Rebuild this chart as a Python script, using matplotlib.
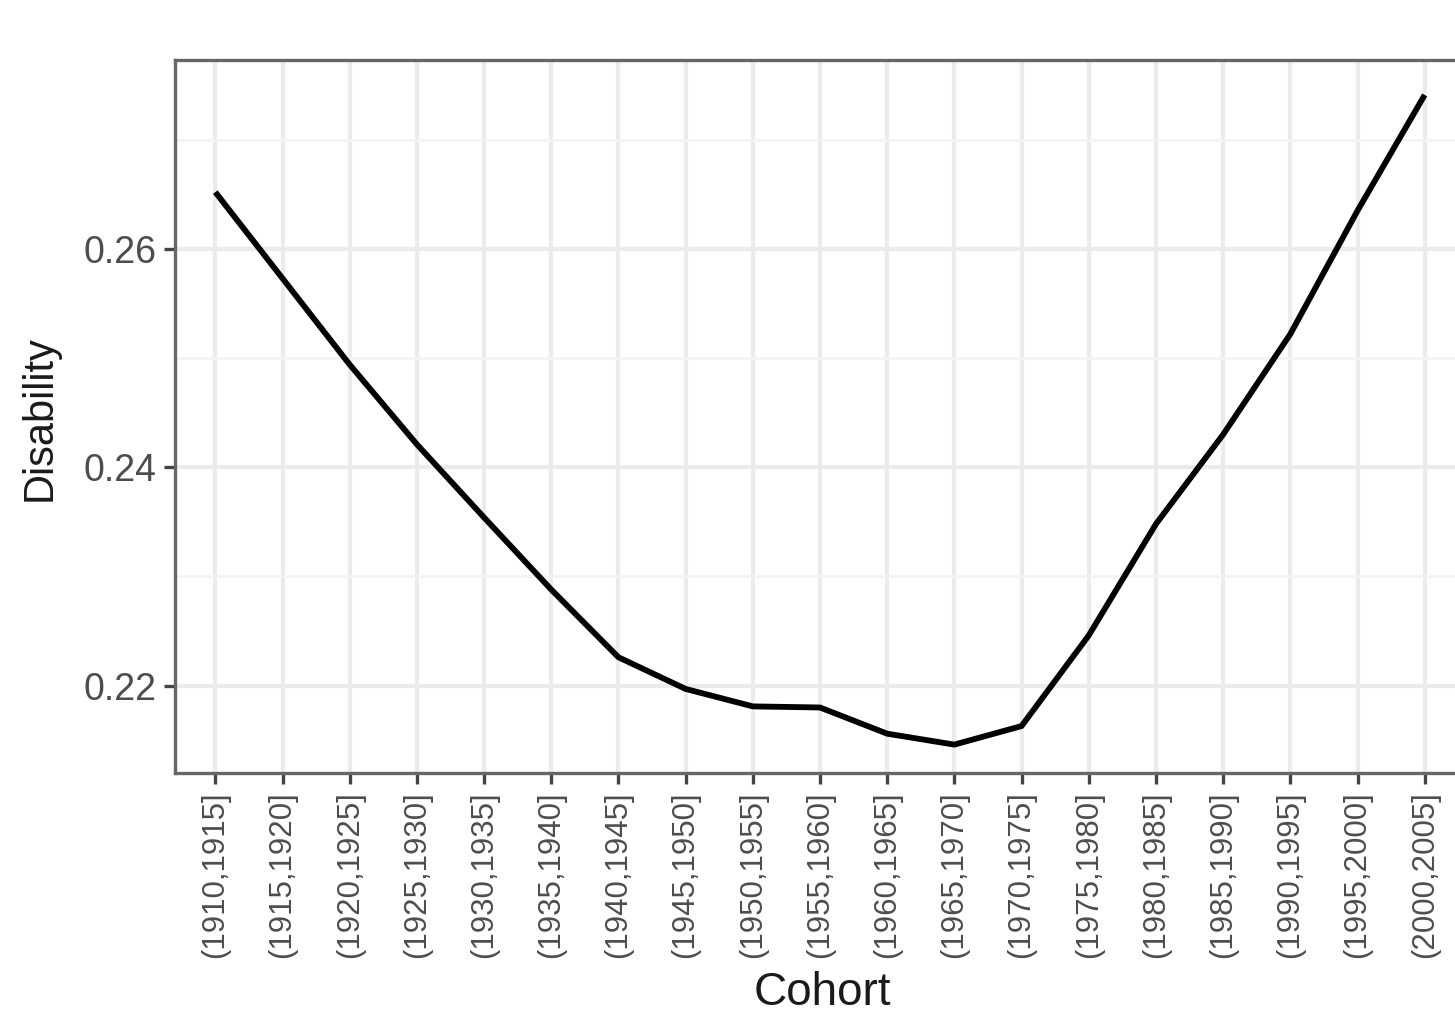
import numpy as np
import matplotlib
matplotlib.use("Agg")
import matplotlib.pyplot as plt
from matplotlib.ticker import MultipleLocator

# cohort bins (5-year intervals) and predicted disability
starts = [1910, 1915, 1920, 1925, 1930, 1935, 1940, 1945, 1950, 1955,
          1960, 1965, 1970, 1975, 1980, 1985, 1990, 1995, 2000]
cohorts = ['(%d,%d]' % (s, s + 5) for s in starts]
disability = [0.2652, 0.2573, 0.2494, 0.2421, 0.2354, 0.2288, 0.2226, 0.2197,
              0.2181, 0.2180, 0.2156, 0.2146, 0.2163, 0.2246, 0.2348, 0.2430,
              0.2522, 0.2635, 0.2741]
y_ticks = [0.22, 0.24, 0.26]

plt.rcParams['font.family'] = ['Liberation Sans', 'DejaVu Sans']

W, H = 1455, 1017
fig = plt.figure(figsize=(W / 100, H / 100), dpi=100)
# panel runs a little past the right edge of the figure
ax = fig.add_axes([175 / W, 1 - 773 / H, 1290 / W, 713 / H])

x = np.arange(len(cohorts))
ax.plot(x, disability, color='black', lw=4.2, solid_capstyle='butt', zorder=3)

ax.set_xlim(-0.6, len(cohorts) - 1 + 0.6)
ax.set_ylim(0.2120, 0.2773)
ax.set_xticks(x)
ax.set_xticklabels(cohorts, rotation=90, fontsize=22.5, color='#4d4d4d')
ax.set_yticks(y_ticks)
ax.set_yticklabels(['%.2f' % v for v in y_ticks], fontsize=27, color='#4d4d4d')
ax.yaxis.set_minor_locator(MultipleLocator(0.01))

ax.grid(True, which='major', color='#ebebeb', lw=3)
ax.grid(True, which='minor', axis='y', color='#f3f3f3', lw=1.8)
ax.set_axisbelow(True)
ax.tick_params(which='major', length=8, width=2.4, color='#444444', pad=5)
ax.tick_params(which='minor', length=0)
for sp in ax.spines.values():
    sp.set_color('#666666')
    sp.set_linewidth(2.4)

fig.text(822 / W, 1 - 1005 / H, 'Cohort', ha='center', va='baseline',
         fontsize=33, color='#1a1a1a')
fig.text(40 / W, 1 - 418 / H, 'Disability', ha='center', va='center',
         rotation=90, fontsize=30, color='#1a1a1a')

fig.savefig('out.png', dpi=100)
